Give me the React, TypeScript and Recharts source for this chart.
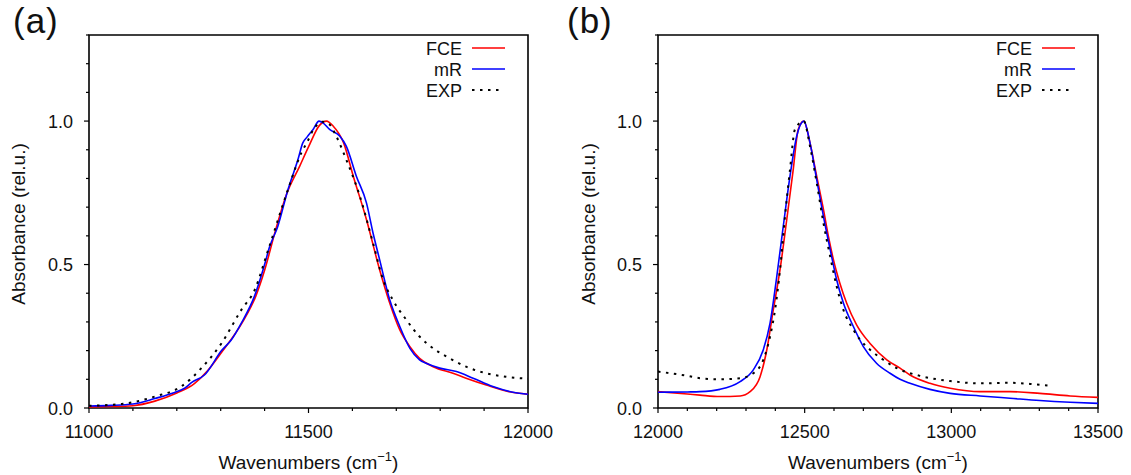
import React from 'react';
import { LineChart, Line, XAxis, YAxis, ReferenceArea, Legend } from 'recharts';

const FONT = '"Liberation Sans", Arial, Helvetica, sans-serif';

// ---------- Panel (a) ----------
const aFceWn = [11000, 11050, 11100, 11150, 11200, 11240, 11270, 11300, 11350, 11380, 11400, 11425, 11450, 11480, 11500, 11525, 11541, 11556, 11580, 11602, 11632, 11662, 11685, 11708, 11731, 11753, 11784, 11829, 11859, 11905, 11950, 12000];
const aFceAbs = [0.004, 0.005, 0.008, 0.024, 0.052, 0.085, 0.13, 0.19, 0.3, 0.39, 0.48, 0.62, 0.745, 0.843, 0.91, 0.985, 1.0, 0.983, 0.924, 0.808, 0.657, 0.482, 0.366, 0.272, 0.214, 0.173, 0.144, 0.121, 0.104, 0.08, 0.059, 0.048];

const aMrWn = [11000, 11050, 11100, 11150, 11195, 11218, 11235, 11263, 11302, 11324, 11347, 11377, 11400, 11411, 11430, 11453, 11476, 11487, 11497, 11510, 11524, 11533, 11548, 11571, 11586, 11609, 11632, 11647, 11662, 11685, 11708, 11731, 11753, 11768, 11799, 11837, 11875, 11920, 11966, 12000];
const aMrAbs = [0.007, 0.009, 0.014, 0.033, 0.054, 0.069, 0.09, 0.115, 0.2, 0.237, 0.296, 0.39, 0.5, 0.56, 0.633, 0.76, 0.866, 0.924, 0.945, 0.97, 1.0, 0.994, 0.971, 0.948, 0.913, 0.808, 0.715, 0.61, 0.517, 0.377, 0.284, 0.208, 0.168, 0.156, 0.139, 0.127, 0.104, 0.075, 0.055, 0.048];

const aExpWn = [11000, 11074, 11150, 11210, 11256, 11302, 11347, 11377, 11408, 11453, 11484, 11498, 11511, 11533, 11548, 11563, 11586, 11617, 11647, 11670, 11692, 11723, 11753, 11784, 11822, 11859, 11905, 11950, 12000];
const aExpAbs = [0.008, 0.014, 0.04, 0.075, 0.139, 0.226, 0.342, 0.41, 0.55, 0.76, 0.89, 0.93, 0.97, 0.998, 0.988, 0.948, 0.866, 0.738, 0.575, 0.447, 0.377, 0.307, 0.249, 0.208, 0.173, 0.144, 0.121, 0.109, 0.102];

// ---------- Panel (b) ----------
const bFceWn = [12000, 12100, 12143, 12211, 12280, 12314, 12348, 12371, 12393, 12416, 12439, 12461, 12478, 12497, 12518, 12541, 12564, 12581, 12598, 12620, 12643, 12677, 12723, 12780, 12825, 12859, 12927, 12996, 13098, 13200, 13302, 13405, 13500];
const bFceAbs = [0.057, 0.049, 0.045, 0.04, 0.042, 0.057, 0.109, 0.203, 0.342, 0.482, 0.657, 0.831, 0.971, 1.0, 0.925, 0.808, 0.692, 0.598, 0.517, 0.435, 0.366, 0.29, 0.225, 0.168, 0.139, 0.115, 0.086, 0.069, 0.057, 0.057, 0.051, 0.042, 0.037];

const bMrWn = [12000, 12100, 12143, 12211, 12280, 12325, 12359, 12382, 12405, 12427, 12450, 12473, 12497, 12518, 12541, 12564, 12587, 12609, 12632, 12666, 12700, 12745, 12791, 12825, 12859, 12927, 12996, 13098, 13200, 13302, 13405, 13500];
const bMrAbs = [0.055, 0.056, 0.057, 0.065, 0.092, 0.133, 0.203, 0.296, 0.459, 0.633, 0.808, 0.948, 1.0, 0.925, 0.796, 0.668, 0.552, 0.447, 0.366, 0.284, 0.214, 0.156, 0.121, 0.1, 0.086, 0.065, 0.051, 0.042, 0.034, 0.026, 0.02, 0.016];

const bExpWn = [12000, 12100, 12143, 12211, 12280, 12325, 12359, 12382, 12399, 12416, 12433, 12450, 12467, 12497, 12518, 12541, 12564, 12587, 12609, 12632, 12666, 12689, 12723, 12768, 12814, 12893, 12996, 13098, 13200, 13268, 13330];
const bExpAbs = [0.127, 0.112, 0.104, 0.1, 0.104, 0.121, 0.168, 0.249, 0.342, 0.482, 0.668, 0.831, 0.971, 1.0, 0.913, 0.785, 0.645, 0.528, 0.424, 0.342, 0.273, 0.238, 0.203, 0.168, 0.139, 0.112, 0.094, 0.086, 0.088, 0.084, 0.078];

// ---------- Axes ----------
const aXTicks = [11000, 11100, 11200, 11300, 11400, 11500, 11600, 11700, 11800, 11900, 12000];
const aXMajor = [11000, 11500, 12000];
const bXTicks = [12000, 12100, 12200, 12300, 12400, 12500, 12600, 12700, 12800, 12900, 13000, 13100, 13200, 13300, 13400, 13500];
const bXMajor = [12000, 12500, 13000, 13500];
const yTicks = [0, 0.1, 0.2, 0.3, 0.4, 0.5, 0.6, 0.7, 0.8, 0.9, 1.0, 1.1, 1.2, 1.3];
const yMajor = [0, 0.5, 1.0];

const seriesNames = ['FCE', 'mR', 'EXP'];
const seriesColors = ['#ff0000', '#0000ff', '#000000'];
const seriesDash = [undefined, undefined, '2.5 5.5'];

const zip = (xs: number[], ys: number[]) => xs.map((x, i) => ({ x, y: ys[i] }));

const makeXTick = (major: number[]) => (props: any) => {
  const { x, y, payload } = props;
  const isMajor = major.includes(payload.value);
  return (
    <g>
      <line x1={x} x2={x} y1={y} y2={y + (isMajor ? 5 : 3)} stroke="#000" strokeWidth={1.2} />
      {isMajor && (
        <text x={x} y={y + 30} textAnchor="middle" fontSize={18} fontFamily={FONT} fill="#111">
          {payload.value}
        </text>
      )}
    </g>
  );
};

const YTick = (props: any) => {
  const { x, y, payload } = props;
  const isMajor = yMajor.some((m) => Math.abs(m - payload.value) < 1e-6);
  return (
    <g>
      <line x1={x} x2={x - (isMajor ? 5 : 3)} y1={y} y2={y} stroke="#000" strokeWidth={1.2} />
      {isMajor && (
        <text x={x - 16} y={y + 6.5} textAnchor="end" fontSize={18} fontFamily={FONT} fill="#111">
          {Number(payload.value).toFixed(1)}
        </text>
      )}
    </g>
  );
};

const LegendBox = () => (
  <svg width={115} height={66} style={{ display: 'block', overflow: 'visible' }}>
    {seriesNames.map((n, i) => (
      <g key={n}>
        <text x={47} y={12 + i * 21 + 6.5} textAnchor="end" fontSize={18} fontFamily={FONT} fill="#111">
          {n}
        </text>
        <line
          x1={57}
          x2={i === 2 ? 87 : 90}
          y1={12 + i * 21}
          y2={12 + i * 21}
          stroke={seriesColors[i]}
          strokeWidth={i === 2 ? 2 : 1.6}
          strokeDasharray={seriesDash[i]}
        />
      </g>
    ))}
  </svg>
);

type PanelProps = {
  left: number;
  width: number;
  rightMargin: number;
  yAxisWidth: number;
  domain: [number, number];
  xTicks: number[];
  xMajor: number[];
  series: { x: number; y: number }[][];
  letter: string;
  letterX: number;
};

const Panel = ({ left, width, rightMargin, yAxisWidth, domain, xTicks, xMajor, series, letter, letterX }: PanelProps) => (
  <div style={{ position: 'absolute', left, top: 0, width, height: 475 }}>
    <div
      style={{
        position: 'absolute',
        left: letterX,
        top: -2,
        fontFamily: FONT,
        fontSize: 35,
        letterSpacing: 1,
        lineHeight: '46px',
        color: '#111',
      }}
    >
      {letter}
    </div>
    <LineChart width={width} height={475} margin={{ top: 35, right: rightMargin, bottom: 0, left: 0 }}>
      <XAxis
        dataKey="x"
        type="number"
        domain={domain}
        ticks={xTicks}
        interval={0}
        allowDataOverflow
        height={67}
        axisLine={false}
        tickLine={false}
        tickSize={0}
        tickMargin={0}
        tick={makeXTick(xMajor)}
        label={{
          content: (p: any) => {
            const vb = p.viewBox || {};
            const cx = (vb.x ?? yAxisWidth) + (vb.width ?? width - yAxisWidth - rightMargin) / 2;
            const by = 469;
            return (
              <text x={cx} y={by} textAnchor="middle" fontSize={19} fontFamily={FONT} fill="#111">
                Wavenumbers (cm
                <tspan dy={-8} fontSize={13}>−1</tspan>
                <tspan dy={8}>)</tspan>
              </text>
            );
          },
        }}
      />
      <YAxis
        type="number"
        domain={[0, 1.3]}
        ticks={yTicks}
        interval={0}
        allowDataOverflow
        width={yAxisWidth}
        axisLine={false}
        tickLine={false}
        tickSize={0}
        tickMargin={0}
        tick={YTick}
        label={{
          content: () => {
            const cx = 18;
            const cy = 224;
            return (
              <text
                x={cx}
                y={cy}
                transform={`rotate(-90 ${cx} ${cy})`}
                textAnchor="middle"
                dominantBaseline="central"
                fontSize={19}
                fontFamily={FONT}
                fill="#111"
              >
                Absorbance (rel.u.)
              </text>
            );
          },
        }}
      />
      {series.map((d, i) => (
        <Line
          key={seriesNames[i]}
          data={d}
          dataKey="y"
          name={seriesNames[i]}
          type="monotone"
          stroke={seriesColors[i]}
          strokeWidth={i === 2 ? 2 : 1.6}
          strokeDasharray={seriesDash[i]}
          dot={false}
          activeDot={false}
          isAnimationActive={false}
        />
      ))}
      <ReferenceArea
        x1={domain[0]}
        x2={domain[1]}
        y1={0}
        y2={1.3}
        fill="none"
        fillOpacity={0}
        stroke="#000"
        strokeWidth={1.6}
        ifOverflow="visible"
      />
      <Legend
        layout="horizontal"
        verticalAlign="middle"
        align="center"
        content={() => <LegendBox />}
        wrapperStyle={{ position: 'absolute', top: 36, left: width - rightMargin - 113, width: 115, height: 66 }}
      />
    </LineChart>
  </div>
);

export default function App() {
  return (
    <div style={{ position: 'absolute', left: 0, top: 0, width: 1131, height: 475, background: '#fff' }}>
      <Panel
        left={0}
        width={562}
        rightMargin={34}
        yAxisWidth={89}
        domain={[11000, 12000]}
        xTicks={aXTicks}
        xMajor={aXMajor}
        series={[zip(aFceWn, aFceAbs), zip(aMrWn, aMrAbs), zip(aExpWn, aExpAbs)]}
        letter="(a)"
        letterX={13}
      />
      <Panel
        left={570}
        width={561}
        rightMargin={33}
        yAxisWidth={88}
        domain={[12000, 13500]}
        xTicks={bXTicks}
        xMajor={bXMajor}
        series={[zip(bFceWn, bFceAbs), zip(bMrWn, bMrAbs), zip(bExpWn, bExpAbs)]}
        letter="(b)"
        letterX={-3}
      />
    </div>
  );
}
